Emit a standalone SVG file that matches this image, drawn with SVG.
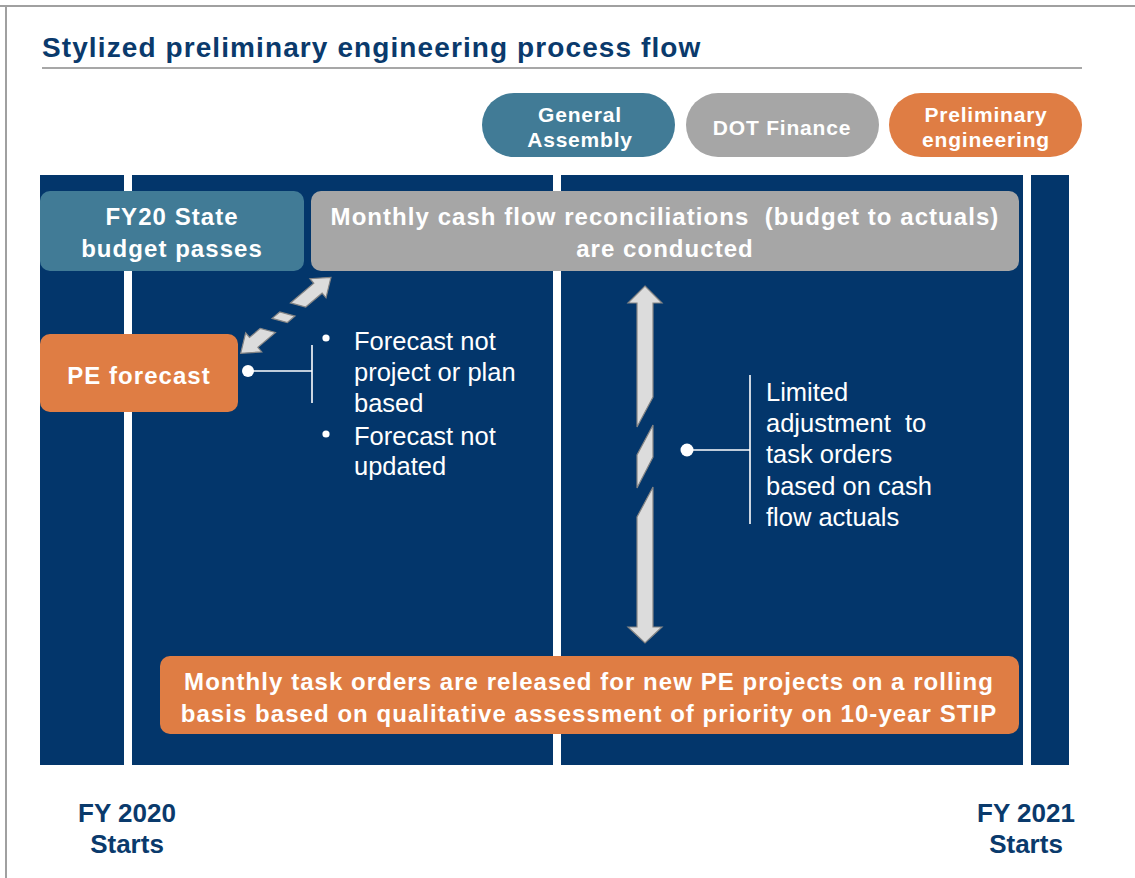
<svg xmlns="http://www.w3.org/2000/svg" width="1135" height="878" viewBox="0 0 1135 878">
  <style>
    text { font-family: "Liberation Sans", Arial, sans-serif; }
    .title { font-size: 28px; font-weight: bold; fill: #0A3A6C; letter-spacing: 1.1px; }
    .pill { font-size: 21px; font-weight: bold; fill: #FFFFFF; letter-spacing: 0.8px; text-anchor: middle; }
    .box { font-size: 24px; font-weight: bold; fill: #FFFFFF; letter-spacing: 1.05px; text-anchor: middle; }
    .note { font-size: 25.5px; fill: #FFFFFF; }
    .fy { font-size: 26px; font-weight: bold; fill: #0A3A6C; text-anchor: middle; }
    .teal { fill: #417B96; }
    .grey { fill: #A6A6A6; }
    .orange { fill: #DF7D44; }
    .blockarrow { fill: #DCDCDC; stroke: #858585; stroke-width: 1.2; stroke-linejoin: miter; }
    .leader { stroke: #FFFFFF; stroke-width: 1.6; fill: none; }
  </style>

  <!-- page frame and title -->
  <g id="frame">
    <line x1="0" y1="6" x2="1135" y2="6" stroke="#A0A0A0" stroke-width="2"/>
    <line x1="6" y1="6" x2="6" y2="878" stroke="#A0A0A0" stroke-width="2"/>
    <text class="title" x="42" y="57">Stylized preliminary engineering process flow</text>
    <line x1="42" y1="68" x2="1082" y2="68" stroke="#8A8A8A" stroke-width="1.6"/>
  </g>

  <!-- legend -->
  <g id="legend-general-assembly">
    <rect class="teal" x="482" y="93" width="193" height="64" rx="32"/>
    <text class="pill" x="580" y="122">General</text>
    <text class="pill" x="580" y="147">Assembly</text>
  </g>
  <g id="legend-dot-finance">
    <rect class="grey" x="686" y="93" width="193" height="64" rx="32"/>
    <text class="pill" x="782" y="135">DOT Finance</text>
  </g>
  <g id="legend-preliminary-engineering">
    <rect class="orange" x="889" y="93" width="193" height="64" rx="32"/>
    <text class="pill" x="986" y="122">Preliminary</text>
    <text class="pill" x="986" y="147">engineering</text>
  </g>

  <!-- fiscal-year timeline band -->
  <g id="timeline">
    <rect x="40" y="175" width="1029" height="590" fill="#03366B"/>
    <rect x="124" y="175" width="8" height="590" fill="#FFFFFF"/>
    <rect x="553" y="175" width="8" height="590" fill="#FFFFFF"/>
    <rect x="1023" y="175" width="8" height="590" fill="#FFFFFF"/>
  </g>

  <!-- process nodes -->
  <g id="node-budget-passes">
    <rect class="teal" x="40" y="191" width="264" height="80" rx="10"/>
    <text class="box" x="172" y="225">FY20 State</text>
    <text class="box" x="172" y="257">budget passes</text>
  </g>
  <g id="node-reconciliations">
    <rect class="grey" x="311" y="191" width="708" height="80" rx="10"/>
    <text class="box" x="665" y="225" xml:space="preserve">Monthly cash flow reconciliations  (budget to actuals)</text>
    <text class="box" x="665" y="257">are conducted</text>
  </g>
  <g id="node-pe-forecast">
    <rect class="orange" x="40" y="334" width="198" height="78" rx="10"/>
    <text class="box" x="139" y="384">PE forecast</text>
  </g>
  <g id="node-task-orders">
    <rect class="orange" x="160" y="656" width="859" height="78" rx="10"/>
    <text class="box" x="589" y="690">Monthly task orders are released for new PE projects on a rolling</text>
    <text class="box" x="589" y="722">basis based on qualitative assessment of priority on 10-year STIP</text>
  </g>

  <!-- annotations -->
  <g id="note-forecast">
    <circle cx="248" cy="371" r="6" fill="#FFFFFF"/>
    <line class="leader" x1="248" y1="371" x2="312" y2="371"/>
    <line class="leader" x1="312" y1="345" x2="312" y2="403"/>
    <circle cx="326" cy="338" r="3.6" fill="#FFFFFF"/>
    <text class="note" x="354" y="350">Forecast not</text>
    <text class="note" x="354" y="381">project or plan</text>
    <text class="note" x="354" y="412">based</text>
    <circle cx="326" cy="434" r="3.6" fill="#FFFFFF"/>
    <text class="note" x="354" y="445">Forecast not</text>
    <text class="note" x="354" y="475">updated</text>
  </g>
  <g id="note-adjustment">
    <circle cx="687" cy="450" r="6.5" fill="#FFFFFF"/>
    <line class="leader" x1="687" y1="450" x2="750" y2="450"/>
    <line class="leader" x1="750" y1="375" x2="750" y2="524"/>
    <text class="note" x="766" y="401">Limited</text>
    <text class="note" x="766" y="432" xml:space="preserve">adjustment  to</text>
    <text class="note" x="766" y="463">task orders</text>
    <text class="note" x="766" y="495">based on cash</text>
    <text class="note" x="766" y="526">flow actuals</text>
  </g>

  <!-- connectors: broken double-headed block arrows -->
  <g id="connectors">
    <g id="forecast-to-reconciliation" transform="translate(240.7 353.3) rotate(-40.1)">
      <polygon class="blockarrow" points="0,0 17,-12.5 17,-6.5 31,-6.5 40,6.5 17,6.5 17,12.5"/>
      <polygon class="blockarrow" points="46.5,-6.5 56.5,-6.5 65.5,6.5 55.5,6.5"/>
      <polygon class="blockarrow" points="70.5,-6.5 101,-6.5 101,-12.5 118,0 101,12.5 101,6.5 79.5,6.5"/>
    </g>
    <g id="reconciliation-to-task-orders">
      <polygon class="blockarrow" points="645,286 662,303 653,303 653,397 637,427 637,303 628,303"/>
      <polygon class="blockarrow" points="653,425 653,457 637,488 637,455"/>
      <polygon class="blockarrow" points="653,487 653,627 662,627 645,643 628,627 637,627 637,517"/>
    </g>
  </g>

  <!-- fiscal-year markers -->
  <g id="fy-2020">
    <text class="fy" x="127" y="822">FY 2020</text>
    <text class="fy" x="127" y="853">Starts</text>
  </g>
  <g id="fy-2021">
    <text class="fy" x="1026" y="822">FY 2021</text>
    <text class="fy" x="1026" y="853">Starts</text>
  </g>
</svg>
